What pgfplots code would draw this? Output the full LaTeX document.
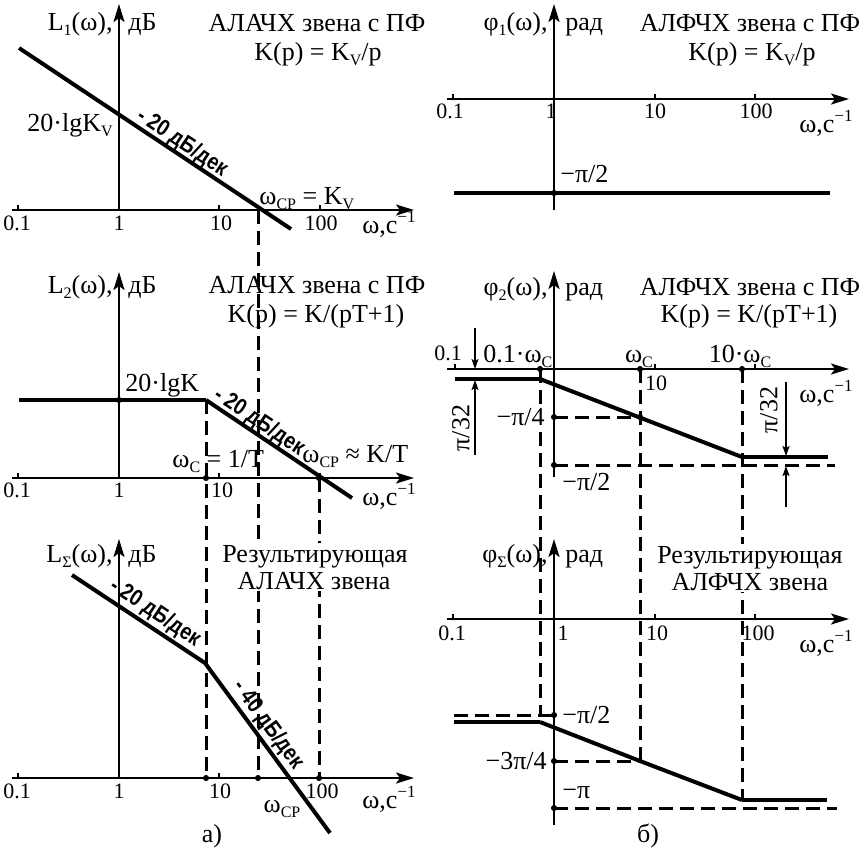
\documentclass[border=0pt]{standalone}
\usepackage{fontspec}
\setmainfont{Liberation Serif}
\newfontfamily\slfont{Liberation Sans}[FakeStretch=0.85]
\usepackage{pgfplots}
\pgfplotsset{compat=1.18}
\usetikzlibrary{arrows.meta}
\newcommand\sub[1]{\raisebox{-0.45ex}{\fontsize{8}{8}\selectfont #1}}
\newcommand\sups[1]{\raisebox{0.9ex}{\fontsize{8.5}{8}\selectfont #1}}
\newcommand\wc{ω,с\sups{−1}}
\newcommand\seg[5]{\addplot[#1] coordinates {(#2,#3) (#4,#5)};}
\begin{document}
\begin{tikzpicture}[
 lab/.style={font=\fontsize{13}{15}\selectfont, inner sep=0pt},
 tkl/.style={font=\fontsize{11}{13}\selectfont, inner sep=0pt},
 slp/.style={font=\slfont\bfseries\fontsize{11.5}{13}\selectfont, inner sep=0pt},
 wf/.style={fill=white, inner sep=1pt},
 ax/.style={black, line width=1.1pt, -{Stealth[length=9pt,width=5.5pt,inset=2pt]}},
 cv/.style={black, line width=2pt},
 hz/.style={black, line width=2.4pt},
 ds/.style={black, line width=1.5pt, dash pattern=on 7pt off 3.5pt},
 tk/.style={black, line width=1pt},
 dt/.style={black, only marks, mark=*, mark size=1.3pt},
 sa/.style={black, line width=0.8pt, -{Stealth[length=5pt,width=3.5pt,inset=1pt]}}
]
\begin{axis}[name=main, width=432.5pt, height=424pt, scale only axis,
  xmin=0, xmax=865, ymin=0, ymax=848, y dir=reverse, hide axis, clip=false]

% ---------- dashed guide lines ----------
\seg{ds}{258}{210}{258}{778}
\seg{ds}{206}{400}{206}{778}
\seg{ds}{319}{478}{319}{778}
\seg{ds}{540}{369}{540}{715}
\seg{ds}{640}{369}{640}{761}
\seg{ds}{742}{369}{742}{800}
\seg{ds}{554}{417}{640}{417}
\seg{ds}{554}{465}{835}{465}
\seg{ds}{454}{715}{554}{715}
\seg{ds}{554}{761}{640}{761}
\seg{ds}{554}{808}{837}{808}

% ---------- white-filled titles ----------
\node[lab,wf,anchor=base] at (315,562) {Результирующая};
\node[lab,wf,anchor=base] at (314,589) {АЛАЧХ звена};
\node[lab,wf,anchor=base] at (750,563) {Результирующая};
\node[lab,wf,anchor=base] at (750,590) {АЛФЧХ звена};
\node[lab,wf,anchor=east] at (547,417) {−π/4};

% ---------- panel 1 ----------
\seg{ax}{119}{210}{119}{4}
\seg{ax}{12}{210}{414}{210}
\seg{tk}{18}{210}{18}{205}
\seg{tk}{219}{210}{219}{205}
\seg{tk}{320}{210}{320}{205}
\seg{cv}{19}{48}{291}{229}
\node[lab,anchor=base east] at (113,30) {L\sub{1}(ω),};
\node[lab,anchor=base west] at (128,30) {дБ};
\node[lab,anchor=base] at (317,31) {АЛАЧХ звена с ПФ};
\node[lab,anchor=base] at (318,60) {K(p) = K\sub{V}/p};
\node[lab,anchor=base east] at (113,131) {20·lgK\sub{V}};
\node[lab,anchor=base west] at (259,204) {ω\sub{CP} = K\sub{V}};
\node[tkl,anchor=base] at (17,230) {0.1};
\node[tkl,anchor=base] at (119,230) {1};
\node[tkl,anchor=base] at (221,230) {10};
\node[tkl,anchor=base] at (321,230) {100};
\node[lab,anchor=base east] at (416,233) {\wc};
\node[slp,rotate=-33.6] at (182,143) {- 20 дБ/дек};

% ---------- panel 2 ----------
\seg{ax}{119}{478}{119}{272}
\seg{ax}{12}{478}{414}{478}
\seg{tk}{18}{478}{18}{473}
\seg{tk}{219}{478}{219}{473}
\seg{tk}{320}{478}{320}{473}
\seg{hz}{19}{400}{206}{400}
\seg{cv}{206}{400}{352}{498}
\addplot[dt] coordinates {(119,400) (206,478) (319,478)};
\node[lab,anchor=base east] at (113,293) {L\sub{2}(ω),};
\node[lab,anchor=base west] at (128,293) {дБ};
\node[lab,anchor=base] at (317,293) {АЛАЧХ звена с ПФ};
\node[lab,anchor=base] at (316,322) {K(p) = K/(pT+1)};
\node[lab,anchor=base west] at (125,391) {20·lgK};
\node[lab,anchor=base west] at (172,467) {ω\sub{C} = 1/T};
\node[lab,anchor=base west] at (302,462) {ω\sub{CP} ≈ K/T};
\node[tkl,anchor=base] at (17,497) {0.1};
\node[tkl,anchor=base] at (119,497) {1};
\node[tkl,anchor=base] at (222,497) {10};
\node[lab,anchor=base east] at (416,505) {\wc};
\node[slp,rotate=-33.8] at (259,422) {- 20 дБ/дек};

% ---------- panel 3 ----------
\seg{ax}{119}{778}{119}{539}
\seg{ax}{12}{778}{414}{778}
\seg{tk}{18}{778}{18}{773}
\seg{tk}{219}{778}{219}{773}
\seg{tk}{320}{778}{320}{773}
\addplot[cv] coordinates {(72,575) (205,663) (330,833)};
\addplot[dt] coordinates {(206,778) (258,778) (319,778)};
\node[lab,anchor=base east] at (113,562) {L\sub{Σ}(ω),};
\node[lab,anchor=base west] at (128,562) {дБ};
\node[tkl,anchor=base] at (17,798) {0.1};
\node[tkl,anchor=base] at (119,798) {1};
\node[tkl,anchor=base] at (220,798) {10};
\node[tkl,anchor=base] at (322,798) {100};
\node[lab,anchor=base] at (282,812) {ω\sub{CP}};
\node[lab,anchor=base east] at (416,808) {\wc};
\node[lab,anchor=base] at (212,842) {а)};
\node[slp,rotate=-33.5] at (155,613) {- 20 дБ/дек};
\node[slp,rotate=-53.7] at (268,725) {- 40 дБ/дек};

% ---------- panel 4 ----------
\seg{ax}{554}{210}{554}{4}
\seg{ax}{447}{99}{849}{99}
\seg{tk}{453}{99}{453}{94}
\seg{tk}{655}{99}{655}{94}
\seg{tk}{755}{99}{755}{94}
\seg{hz}{454}{193}{830}{193}
\addplot[dt] coordinates {(554,193)};
\node[lab,anchor=base east] at (548,30) {φ\sub{1}(ω),};
\node[lab,anchor=base west] at (565,30) {рад};
\node[lab,anchor=base] at (750,31) {АЛФЧХ звена с ПФ};
\node[lab,anchor=base] at (752,60) {K(p) = K\sub{V}/p};
\node[tkl,anchor=base] at (450,118) {0.1};
\node[tkl,anchor=base] at (551,118) {1};
\node[tkl,anchor=base] at (655,118) {10};
\node[tkl,anchor=base] at (756,118) {100};
\node[lab,anchor=base east] at (853,132) {\wc};
\node[lab,anchor=base west] at (560,182) {−π/2};

% ---------- panel 5 ----------
\seg{ax}{554}{477}{554}{271}
\seg{ax}{447}{369}{849}{369}
\seg{tk}{455}{369}{455}{364}
\seg{tk}{655}{369}{655}{364}
\seg{tk}{755}{369}{755}{364}
\seg{hz}{455}{379}{540}{379}
\seg{cv}{540}{379}{742}{457}
\seg{hz}{742}{457}{828}{457}
\addplot[dt] coordinates {(540,369) (640,369) (742,369) (640,417) (554,417) (554,465)};
\seg{sa}{475}{328}{475}{369}
\seg{sa}{475}{455}{475}{380}
\seg{sa}{786}{382}{786}{456}
\seg{sa}{786}{507}{786}{466}
\node[lab,anchor=base east] at (548,295) {φ\sub{2}(ω),};
\node[lab,anchor=base west] at (565,295) {рад};
\node[lab,anchor=base] at (750,295) {АЛФЧХ звена с ПФ};
\node[lab,anchor=base] at (749,322) {K(p) = K/(pT+1)};
\node[tkl,anchor=base] at (448,360) {0.1};
\node[lab,anchor=base west] at (483,362) {0.1·ω\sub{C}};
\node[lab,anchor=base] at (639,362) {ω\sub{C}};
\node[lab,anchor=base] at (740,362) {10·ω\sub{C}};
\node[tkl,anchor=base] at (656,390) {10};
\node[lab,anchor=base east] at (853,402) {\wc};
\node[lab,anchor=base west] at (562,490) {−π/2};
\node[lab,rotate=90] at (461,428) {π/32};
\node[lab,rotate=90] at (769,410) {π/32};

% ---------- panel 6 ----------
\seg{ax}{554}{825}{554}{539}
\seg{ax}{447}{619}{849}{619}
\seg{tk}{453}{619}{453}{614}
\seg{tk}{655}{619}{655}{614}
\seg{tk}{755}{619}{755}{614}
\seg{hz}{454}{722}{540}{722}
\addplot[cv] coordinates {(540,722) (640,761) (742,800)};
\seg{hz}{742}{800}{827}{800}
\addplot[dt] coordinates {(554,715) (554,761) (554,808)};
\node[lab,anchor=base east] at (548,562) {φ\sub{Σ}(ω),};
\node[lab,anchor=base west] at (565,562) {рад};
\node[tkl,anchor=base] at (452,640) {0.1};
\node[tkl,anchor=base] at (563,640) {1};
\node[tkl,anchor=base] at (657,640) {10};
\node[tkl,anchor=base] at (758,640) {100};
\node[lab,anchor=base east] at (853,652) {\wc};
\node[lab,anchor=base west] at (562,723) {−π/2};
\node[lab,anchor=east] at (547,761) {−3π/4};
\node[lab,anchor=west] at (562,793) {−π};
\node[lab,anchor=base] at (648,842) {б)};
\end{axis}
\pgfresetboundingbox
\path (main.south west) rectangle (main.north east);
\end{tikzpicture}
\end{document}
